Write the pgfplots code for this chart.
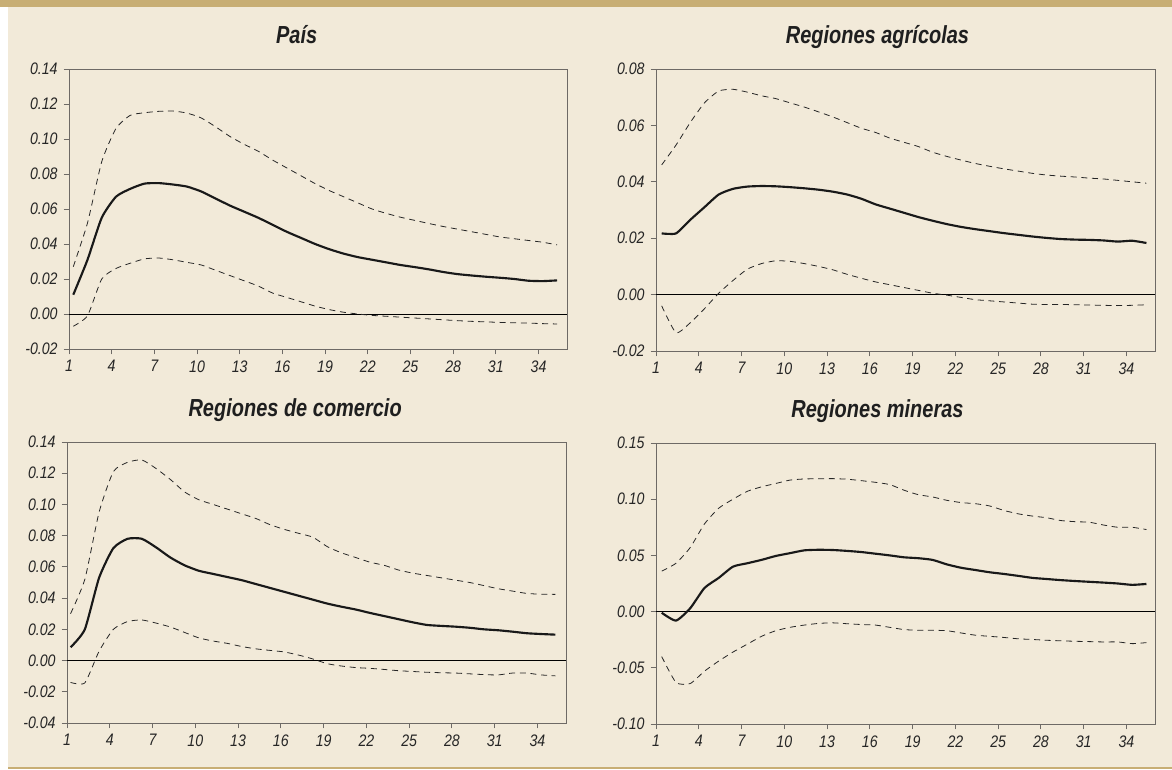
\documentclass[border=0pt]{standalone}
\usepackage{fontspec}
\setmainfont{Liberation Sans}
\newfontfamily\titlefont[FakeStretch=0.81]{Liberation Sans}
\newfontfamily\tickfont[FakeStretch=0.85]{Liberation Sans}
\usepackage{pgfplots}
\usepackage{pgfplotstable}
\pgfplotsset{compat=1.18}
\definecolor{bg}{HTML}{F2EAD9}
\definecolor{tan}{HTML}{C8AE74}
\definecolor{axgray}{HTML}{6E6A66}

\pgfplotstableread{
t sol up lo
1 0.011 0.027 -0.007
2 0.031 0.052 -0.001
3 0.055 0.087 0.020
4 0.067 0.106 0.026
5 0.0715 0.1135 0.029
6 0.0745 0.115 0.0315
7 0.0748 0.1158 0.032
8 0.074 0.116 0.031
9 0.0728 0.1148 0.0295
10 0.070 0.112 0.028
11 0.066 0.107 0.025
12 0.062 0.1015 0.022
13 0.0585 0.097 0.019
14 0.055 0.093 0.016
15 0.051 0.088 0.012
16 0.047 0.0835 0.0095
17 0.0435 0.079 0.007
18 0.040 0.0745 0.0045
19 0.037 0.0705 0.0025
20 0.0345 0.067 0.001
21 0.0325 0.0635 0.000
22 0.031 0.060 -0.0008
23 0.0295 0.0575 -0.0013
24 0.028 0.0553 -0.0018
25 0.0268 0.0535 -0.0023
26 0.0255 0.0517 -0.0028
27 0.024 0.050 -0.0033
28 0.0228 0.0485 -0.0038
29 0.022 0.047 -0.0042
30 0.0213 0.0455 -0.0045
31 0.0207 0.044 -0.0048
32 0.020 0.043 -0.005
33 0.019 0.042 -0.0052
34 0.0188 0.041 -0.0055
35 0.0192 0.0395 -0.0057
}\pais

\pgfplotstableread{
t sol up lo
1 0.0217 0.046 -0.004
2 0.0217 0.053 -0.0135
3 0.0265 0.061 -0.010
4 0.031 0.068 -0.005
5 0.0355 0.0722 0.0005
6 0.0375 0.0728 0.005
7 0.0383 0.0718 0.009
8 0.0385 0.0705 0.011
9 0.0384 0.0695 0.012
10 0.0381 0.068 0.0118
11 0.0377 0.0665 0.011
12 0.0372 0.0648 0.010
13 0.0365 0.063 0.0088
14 0.0355 0.061 0.0072
15 0.034 0.059 0.0058
16 0.032 0.0575 0.0045
17 0.0305 0.0555 0.0035
18 0.029 0.054 0.0025
19 0.0275 0.0525 0.0015
20 0.0262 0.0505 0.0005
21 0.025 0.049 -0.0002
22 0.024 0.0477 -0.001
23 0.0232 0.0465 -0.0018
24 0.0225 0.0455 -0.0022
25 0.0218 0.0446 -0.0026
26 0.0212 0.0438 -0.003
27 0.0206 0.043 -0.0034
28 0.0201 0.0424 -0.0035
29 0.0197 0.042 -0.0035
30 0.0195 0.0417 -0.0036
31 0.0194 0.0413 -0.0037
32 0.0192 0.041 -0.0038
33 0.0188 0.0405 -0.0039
34 0.0191 0.040 -0.0038
35 0.0183 0.0395 -0.0036
}\agri

\pgfplotstableread{
t sol up lo
1 0.0085 0.030 -0.014
2 0.020 0.052 -0.0143
3 0.053 0.095 0.006
4 0.072 0.121 0.020
5 0.078 0.127 0.025
6 0.078 0.1285 0.026
7 0.0725 0.123 0.024
8 0.066 0.116 0.0215
9 0.061 0.108 0.018
10 0.0575 0.103 0.0145
11 0.0555 0.100 0.0125
12 0.0535 0.097 0.011
13 0.0515 0.094 0.009
14 0.049 0.091 0.0075
15 0.0465 0.087 0.0065
16 0.044 0.084 0.0055
17 0.0415 0.0815 0.0035
18 0.039 0.079 0.001
19 0.0365 0.073 -0.002
20 0.0345 0.069 -0.0035
21 0.0327 0.066 -0.0045
22 0.0305 0.063 -0.005
23 0.0285 0.061 -0.0057
24 0.0265 0.058 -0.0065
25 0.0245 0.056 -0.007
26 0.0228 0.0545 -0.0075
27 0.0222 0.053 -0.0078
28 0.0217 0.0515 -0.008
29 0.021 0.050 -0.0085
30 0.0200 0.048 -0.009
31 0.0194 0.046 -0.0092
32 0.0185 0.0445 -0.008
33 0.0175 0.043 -0.008
34 0.0170 0.0425 -0.0092
35 0.0166 0.0424 -0.0098
}\comer

\pgfplotstableread{
t sol up lo
1 -0.001 0.036 -0.040
2 -0.008 0.043 -0.063
3 0.003 0.057 -0.064
4 0.021 0.078 -0.053
5 0.030 0.092 -0.044
6 0.040 0.100 -0.036
7 0.043 0.107 -0.029
8 0.046 0.111 -0.022
9 0.0495 0.114 -0.017
10 0.052 0.117 -0.014
11 0.0545 0.118 -0.012
12 0.055 0.1182 -0.0105
13 0.0548 0.1183 -0.010
14 0.054 0.1178 -0.0108
15 0.053 0.1165 -0.0115
16 0.0515 0.115 -0.012
17 0.050 0.113 -0.014
18 0.0483 0.108 -0.016
19 0.0475 0.104 -0.0166
20 0.046 0.102 -0.0166
21 0.042 0.099 -0.017
22 0.039 0.097 -0.019
23 0.037 0.096 -0.021
24 0.035 0.094 -0.022
25 0.0335 0.090 -0.023
26 0.0318 0.087 -0.0242
27 0.030 0.085 -0.0248
28 0.029 0.0835 -0.0255
29 0.028 0.081 -0.026
30 0.0272 0.080 -0.0264
31 0.0265 0.0795 -0.0267
32 0.0258 0.077 -0.027
33 0.025 0.075 -0.027
34 0.0238 0.075 -0.0285
35 0.0246 0.073 -0.0276
}\miner

\pgfplotsset{
  irf/.style={
    scale only axis,
    anchor=north west,
    xmin=1, xmax=36,
    xtick={1,4,...,34},
    axis line style={draw=axgray, line width=0.7pt},
    tick style={draw=axgray, line width=0.7pt},
    major tick length=4pt,
    tick align=outside,
    xtick pos=bottom, ytick pos=left,
    /pgf/number format/assume math mode=true,
    ticklabel style={font=\tickfont\itshape\fontsize{12.5}{13}\selectfont, text=black!85},
    yticklabel style={/pgf/number format/fixed, /pgf/number format/fixed zerofill, /pgf/number format/precision=2, xshift=-1pt},
    xticklabel style={yshift=-1pt},
    scaled y ticks=false,
    title style={font=\titlefont\bfseries\itshape\fontsize{18.5}{19}\selectfont, text=black!88, anchor=base, yshift=13pt},
    clip=false,
  },
  sol/.style={black!90, line width=1.6pt, line join=round, smooth, tension=0.35},
  dsh/.style={black!85, line width=0.6pt, dash pattern=on 4.5pt off 3.5pt, smooth, tension=0.35},
  zer/.style={black, line width=0.6pt},
}

\begin{document}
\begin{tikzpicture}
\fill[bg] (0,0) rectangle (879pt,-577.5pt);
\fill[white] (0,0) rectangle (6pt,-577.5pt);
\fill[tan] (0,0) rectangle (879pt,-5.5pt);
\fill[tan] (6pt,-575pt) rectangle (879pt,-576.6pt);
\fill[white] (0,-576.6pt) rectangle (879pt,-577.5pt);

\begin{axis}[irf, at={(51.75pt,-51.75pt)}, width=373.5pt, height=210pt,
  ymin=-0.02, ymax=0.14, ytick={-0.02,0,...,0.14}, title={País},
  title style={xshift=-16pt}]
  \addplot[zer] coordinates {(1,0) (36,0)};
  \addplot[dsh] table[x expr=\thisrow{t}+0.3, y=up] {\pais};
  \addplot[dsh] table[x expr=\thisrow{t}+0.3, y=lo] {\pais};
  \addplot[sol] table[x expr=\thisrow{t}+0.3, y=sol] {\pais};
\end{axis}

\begin{axis}[irf, at={(492pt,-51.75pt)}, width=374.25pt, height=211.5pt,
  ymin=-0.02, ymax=0.08, ytick={-0.02,0,...,0.08}, title={Regiones agrícolas},
  title style={xshift=-21pt}]
  \addplot[zer] coordinates {(1,0) (36,0)};
  \addplot[dsh] table[x expr=\thisrow{t}+0.4, y=up] {\agri};
  \addplot[dsh] table[x expr=\thisrow{t}+0.4, y=lo] {\agri};
  \addplot[sol] table[x expr=\thisrow{t}+0.4, y=sol] {\agri};
\end{axis}

\begin{axis}[irf, at={(50.25pt,-331.5pt)}, width=374.25pt, height=210.75pt,
  ymin=-0.04, ymax=0.14, ytick={-0.04,-0.02,...,0.14}, title={Regiones de comercio},
  title style={xshift=-16pt}]
  \addplot[zer] coordinates {(1,0) (36,0)};
  \addplot[dsh] table[x expr=\thisrow{t}+0.25, y=up] {\comer};
  \addplot[dsh] table[x expr=\thisrow{t}+0.25, y=lo] {\comer};
  \addplot[sol] table[x expr=\thisrow{t}+0.25, y=sol] {\comer};
\end{axis}

\begin{axis}[irf, at={(492pt,-332.25pt)}, width=374.25pt, height=210.75pt,
  ymin=-0.10, ymax=0.15, ytick={-0.10,-0.05,...,0.15}, title={Regiones mineras},
  title style={xshift=-21pt}]
  \addplot[zer] coordinates {(1,0) (36,0)};
  \addplot[dsh] table[x expr=\thisrow{t}+0.4, y=up] {\miner};
  \addplot[dsh] table[x expr=\thisrow{t}+0.4, y=lo] {\miner};
  \addplot[sol] table[x expr=\thisrow{t}+0.4, y=sol] {\miner};
\end{axis}

\pgfresetboundingbox
\path (0,0) rectangle (879pt,-577.5pt);
\end{tikzpicture}
\end{document}
